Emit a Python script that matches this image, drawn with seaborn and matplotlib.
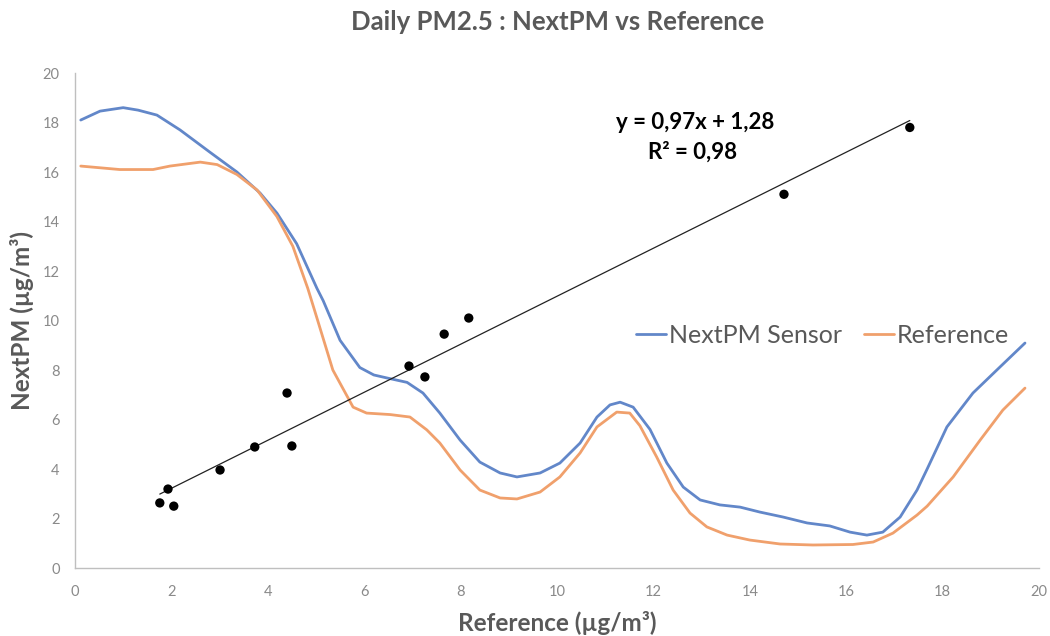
import matplotlib
matplotlib.use("Agg")
import matplotlib.pyplot as plt
import seaborn as sns
import numpy as np
import pandas as pd

# ---- data ----
ref_pts = [1.76, 1.93, 2.05, 3.01, 3.73, 4.40, 4.50, 6.93, 7.26, 7.66, 8.17, 14.71, 17.32]
nextpm_pts = [2.63, 3.19, 2.50, 3.96, 4.89, 7.07, 4.93, 8.16, 7.72, 9.45, 10.10, 15.10, 17.80]

trend_slope = [0.97]
trend_intercept = [1.28]
trend_r2 = [0.98]

sensor_x = [0.12, 0.52, 1.0, 1.31, 1.7, 2.18, 2.8, 3.36, 3.84, 4.19, 4.6, 5.02, 5.15, 5.5,
            5.91, 6.2, 6.47, 6.89, 7.22, 7.57, 7.99, 8.40, 8.82, 9.17, 9.65, 10.06, 10.48,
            10.83, 11.1, 11.31, 11.58, 11.93, 12.28, 12.62, 12.97, 13.38, 13.80, 14.21,
            14.69, 15.19, 15.66, 16.08, 16.43, 16.76, 17.12, 17.47, 17.68, 18.09, 18.63,
            19.19, 19.71]
sensor_y = [18.1, 18.46, 18.6, 18.5, 18.3, 17.7, 16.8, 16.0, 15.15, 14.34, 13.1, 11.3, 10.8, 9.2,
            8.1, 7.8, 7.68, 7.5, 7.07, 6.26, 5.17, 4.28, 3.84, 3.68, 3.84, 4.24, 5.05,
            6.1, 6.59, 6.7, 6.5, 5.6, 4.24, 3.27, 2.75, 2.55, 2.46, 2.26,
            2.06, 1.82, 1.70, 1.45, 1.33, 1.45, 2.06, 3.15, 4.0, 5.7, 7.07,
            8.12, 9.09]

reference_x = [0.12, 0.93, 1.62, 1.97, 2.6, 2.95, 3.36, 3.78, 4.19, 4.52, 4.83, 5.02, 5.35, 5.77,
               6.05, 6.54, 6.95, 7.3, 7.57, 7.99, 8.40, 8.82, 9.17, 9.65, 10.06, 10.48, 10.83,
               11.24, 11.51, 11.72, 12.07, 12.41, 12.76, 13.11, 13.53, 14.0, 14.63, 15.31,
               16.14, 16.56, 16.97, 17.47, 17.68, 18.22, 18.78, 19.25, 19.71]
reference_y = [16.24, 16.1, 16.1, 16.24, 16.4, 16.3, 15.9, 15.27, 14.2, 13.0, 11.3, 10.1, 8.0, 6.5,
               6.26, 6.2, 6.1, 5.58, 5.05, 3.96, 3.15, 2.83, 2.79, 3.07, 3.68, 4.65, 5.7,
               6.3, 6.26, 5.75, 4.48, 3.15, 2.22, 1.66, 1.33, 1.13, 0.97, 0.93,
               0.95, 1.05, 1.41, 2.14, 2.5, 3.68, 5.17, 6.38, 7.27]

x_ticks = [0, 2, 4, 6, 8, 10, 12, 14, 16, 18, 20]
y_ticks = [0, 2, 4, 6, 8, 10, 12, 14, 16, 18, 20]

# ---- style ----
sns.set_theme(style="white")
plt.rcParams['font.family'] = ['Lato', 'DejaVu Sans']

BLUE = "#6287c9"
ORANGE = "#f0a06c"
GREY_TXT = "#595959"
TICK_TXT = "#8a8a8a"
SPINE = "#bfbfbf"

fig = plt.figure(figsize=(10.5, 6.36), dpi=100)
ax = fig.add_axes([0.0714, 0.1069, 0.9181, 0.7783])

df_s = pd.DataFrame({"x": sensor_x, "y": sensor_y})
df_r = pd.DataFrame({"x": reference_x, "y": reference_y})
sns.lineplot(data=df_s, x="x", y="y", ax=ax, color=BLUE, lw=2.0, sort=False,
             label="NextPM Sensor", solid_joinstyle="round", solid_capstyle="round")
sns.lineplot(data=df_r, x="x", y="y", ax=ax, color=ORANGE, lw=2.0, sort=False,
             label="Reference", solid_joinstyle="round", solid_capstyle="round")

# trend line
tx = np.array([min(ref_pts), max(ref_pts)])
ty = trend_slope[0] * tx + trend_intercept[0]
ax.plot(tx, ty, color="#222222", lw=0.9, zorder=3)

# scatter points
df_p = pd.DataFrame({"ref": ref_pts, "nextpm": nextpm_pts})
sns.scatterplot(data=df_p, x="ref", y="nextpm", ax=ax, color="black", s=45,
                edgecolor="none", zorder=4, legend=False)

def fr(v):
    return f"{v:.2f}".replace('.', ',')

ax.text(12.86, 18.0, f"y = {fr(trend_slope[0])}x + {fr(trend_intercept[0])}",
        ha="center", va="center", fontsize=16, fontweight="bold", color="black")
ax.text(12.82, 16.8, f"R² = {fr(trend_r2[0])}",
        ha="center", va="center", fontsize=16, fontweight="bold", color="black")

ax.set_xlim(0, 20)
ax.set_ylim(0, 20)
ax.set_xticks(x_ticks)
ax.set_yticks(y_ticks)
ax.tick_params(axis="x", length=0, labelsize=10.5, labelcolor=TICK_TXT, pad=12)
ax.tick_params(axis="y", length=0, labelsize=10.5, labelcolor=TICK_TXT, pad=11)
for side in ["top", "right"]:
    ax.spines[side].set_visible(False)
for side in ["left", "bottom"]:
    ax.spines[side].set_color(SPINE)
    ax.spines[side].set_linewidth(1.0)

ax.set_xlabel("Reference (µg/m³)", fontsize=17.5, fontweight="bold", color=GREY_TXT, labelpad=9)
ax.set_ylabel("NextPM (µg/m³)", fontsize=17.5, fontweight="bold", color=GREY_TXT, labelpad=6)

fig.text(0.531, 0.965, "Daily PM2.5 : NextPM vs Reference", ha="center", va="center",
         fontsize=18.5, fontweight="bold", color=GREY_TXT)

leg = ax.legend(loc="center left", bbox_to_anchor=(0.572, 0.47), ncol=2, frameon=False,
                fontsize=18, handlelength=1.2, handletextpad=0.1, columnspacing=0.9,
                borderaxespad=0)
for t in leg.get_texts():
    t.set_color(GREY_TXT)

fig.savefig("out.png", dpi=100, facecolor="white")
